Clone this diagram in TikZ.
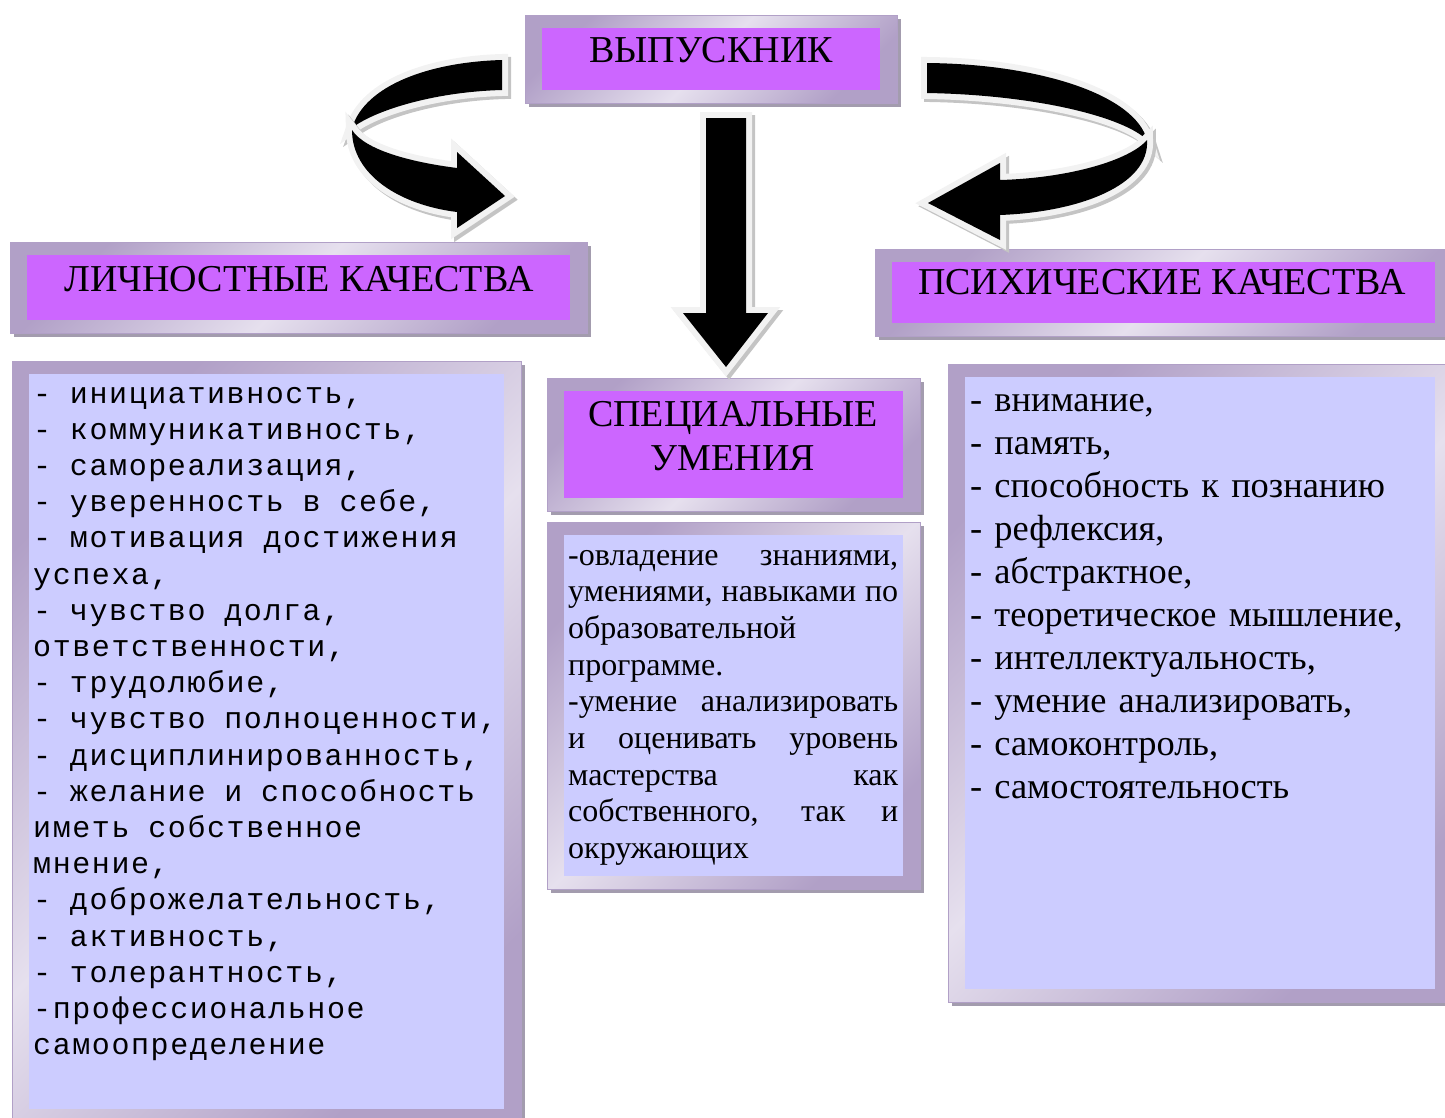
\documentclass[tikz,border=0pt]{standalone}
\usepackage{fontspec}
\setmainfont{Liberation Serif}
\newfontfamily\listfont{Liberation Mono}[LetterSpace=5.3]
\usetikzlibrary{positioning,calc,shadows}

\definecolor{framedark}{HTML}{B1A0C7}
\definecolor{framelight}{HTML}{E6E0EE}
\definecolor{frameshadow}{HTML}{A39CAE}
\definecolor{headcol}{HTML}{CC66FF}
\definecolor{bodycol}{HTML}{CCCCFF}
\definecolor{arrowrim}{HTML}{F2F2F2}
\definecolor{arrowshadow}{HTML}{C4C4C4}

\newcommand\justline[1]{\makebox[330pt][s]{\spaceskip=0.25em plus 1fil\relax #1}}

\tikzset{
  frame/.style={top color=framedark, bottom color=framedark, middle color=framelight,
    shading angle=45, draw=framedark, line width=0.8pt,
    drop shadow={shadow xshift=4pt, shadow yshift=-4pt, fill=frameshadow, opacity=1}},
  arrowbody/.style={drop shadow={shadow xshift=3pt, shadow yshift=-3pt, fill=arrowshadow,
      draw=arrowshadow, line width=12pt, opacity=1},
    preaction={draw=arrowrim, line width=12pt, line join=miter}, fill=black},
  headtext/.style={anchor=base, inner sep=0pt, font=\fontsize{38}{44}\selectfont},
  listtext/.style={anchor=base west, inner sep=0pt, align=left}
}

\begin{document}
\begin{tikzpicture}[x=1pt, y=-1pt]
\useasboundingbox (0,0) rectangle (1445,1117);

% Framed boxes
\foreach \xa/\ya/\xb/\yb/\kind in {525/15/897/103/headcol, 10/242/587/333/headcol,
    875/249/1452/336/headcol, 547/378/920/511/headcol, 547/522/920/889/bodycol,
    12/361/521/1122/bodycol, 948/364/1452/1002/bodycol} {
  \path[frame] (\xa,\ya) rectangle (\xb,\yb);
  \fill[fill=\kind] (\xa+17,\ya+13) rectangle (\xb-17,\yb-13);
}

% Headings
\node[headtext] (graduate) at (711,62) {ВЫПУСКНИК};
\node[headtext] (personal) at (299,291) {ЛИЧНОСТНЫЕ КАЧЕСТВА};
\node[headtext] (mental) at (1162,294) {ПСИХИЧЕСКИЕ КАЧЕСТВА};
\node[headtext, align=center] (skills) at (733,470) {СПЕЦИАЛЬНЫЕ\\УМЕНИЯ};

% Lists
\node[listtext, text width=480pt, font=\listfont\fontsize{30}{36.2}\selectfont]
  (personallist) at (33,403) {\spaceskip=18.8pt\relax
- инициативность,\\
- коммуникативность,\\
- самореализация,\\
- уверенность в себе,\\
- мотивация достижения\\
успеха,\\
- чувство долга,\\
ответственности,\\
- трудолюбие,\\
- чувство полноценности,\\
- дисциплинированность,\\
- желание и способность\\
иметь собственное\\
мнение,\\
- доброжелательность,\\
- активность,\\
- толерантность,\\
-профессиональное\\
самоопределение};

\node[listtext, text width=330pt, font=\fontsize{32}{36.7}\selectfont]
  (skillslist) at (568,565) {%
\justline{-овладение знаниями,}\\
\justline{умениями, навыками по}\\
образовательной\\
программе.\\
\justline{-умение анализировать}\\
\justline{и оценивать уровень}\\
\justline{мастерства как}\\
\justline{собственного, так и}\\
окружающих};

\node[listtext, text width=470pt, font=\fontsize{36.4}{43}\selectfont]
  (mentallist) at (970,411) {%
- внимание,\\
- память,\\
- способность к познанию\\
- рефлексия,\\
- абстрактное,\\
- теоретическое мышление,\\
- интеллектуальность,\\
- умение анализировать,\\
- самоконтроль,\\
- самостоятельность};

% Straight arrow
\path[arrowbody] (706,118) -- (746,118) -- (746,313) -- (768,313) -- (726,367)
  -- (683,313) -- (706,313) -- cycle;

% Left curved arrow
\path[arrowbody] (502,60) .. controls (430,62) and (365,85) .. (352,128)
  .. controls (372,112) and (430,92) .. (502,90) -- cycle;
\path[arrowbody] (352,130) .. controls (352,175) and (400,205) .. (457,212)
  -- (457,228) -- (505,196) -- (457,152) -- (457,168)
  .. controls (410,162) and (365,150) .. (352,130) -- cycle;

% Right curved arrow
\path[arrowbody] (927,63) .. controls (1040,64) and (1135,95) .. (1147,140)
  .. controls (1125,118) and (1040,95) .. (927,93) -- cycle;
\path[arrowbody] (1147,140) .. controls (1150,185) and (1080,212) .. (1000,215)
  -- (1000,240) -- (928,203) -- (1000,163) -- (1000,180)
  .. controls (1070,178) and (1130,160) .. (1147,140) -- cycle;

\end{tikzpicture}
\end{document}
